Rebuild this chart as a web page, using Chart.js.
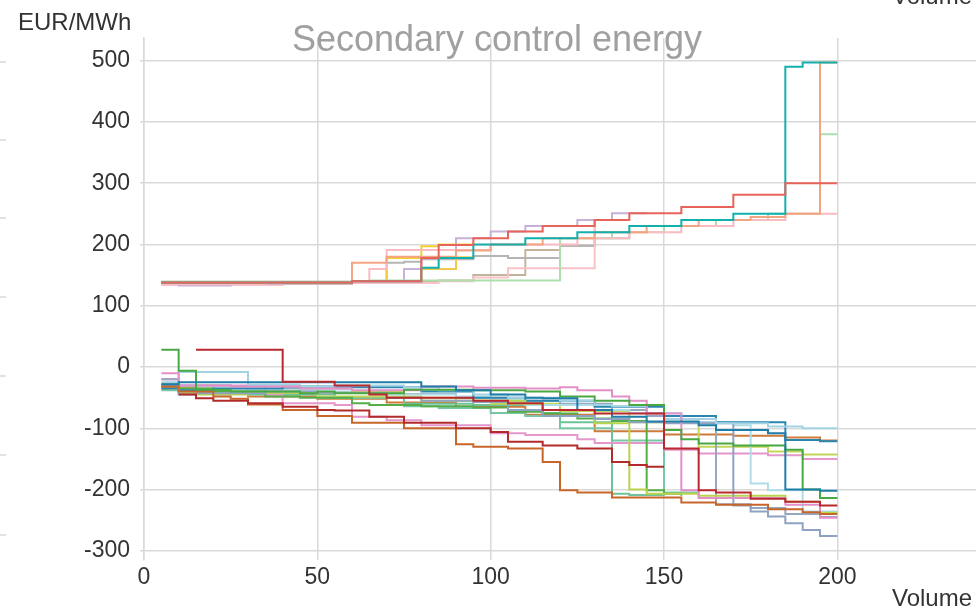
<!DOCTYPE html>
<html>
<head>
<meta charset="utf-8">
<title>Secondary control energy</title>
<script src="https://cdn.jsdelivr.net/npm/chart.js@4.4.1/dist/chart.umd.min.js"></script>
<style>
    html, body { margin: 0; padding: 0; background: #fff; }
    #wrap { width: 976px; height: 614px; }
</style>
</head>
<body>
<div id="wrap"><canvas id="merit-chart" width="976" height="614"></canvas></div>
<script>
// Merit order steps: [volume, price] - price holds until the next volume
const volumeTicks = [0, 50, 100, 150, 200];
const priceTicks = [-300, -200, -100, 0, 100, 200, 300, 400, 500];

// positive (upward) bids
const upRed      = [[5,138],[60,140],[80,178],[85,199],[95,210],[105,221],[115,230],[130,240],[140,251],[155,261],[170,281],[185,300],[200,300]];
const upLavender = [[5,137],[10,133],[25,136],[60,140],[75,160],[80,178],[90,210],[100,221],[110,230],[125,240],[135,251],[145,251]];
const upTeal     = [[5,138],[60,140],[80,162],[85,178],[95,200],[110,210],[125,220],[140,230],[155,240],[170,250],[185,490],[190,497],[200,497]];
const upGreen    = [[5,139],[65,141],[120,210],[135,220],[150,230],[165,240],[180,250],[195,380],[200,380]];
const upPink     = [[5,135],[35,138],[65,160],[70,191],[100,200],[125,210],[140,220],[155,230],[170,240],[185,250],[200,250]];
const upPink2    = [[5,134],[40,137],[85,140],[95,146],[105,161],[130,240],[140,240]];
const upSalmon   = [[5,137],[60,170],[70,180],[90,190],[100,200],[115,210],[130,220],[145,230],[160,240],[175,245],[185,250],[195,497],[200,497]];
const upYellow   = [[5,134],[10,137],[60,140],[70,178],[80,197],[85,200],[95,200]];
const upYellow2  = [[5,136],[60,138],[80,160],[90,179],[95,179]];
const upGray     = [[5,137],[60,139],[70,170],[75,172],[80,176],[95,181],[105,178],[120,198],[130,240],[140,240]];
const upTan      = [[5,139],[60,140],[85,141],[95,150],[110,191],[120,198],[130,210],[140,220]];

// negative (downward) bids
const loRedA     = [[15,28],[40,-24],[55,-30],[65,-45],[70,-50],[95,-55],[105,-59],[115,-70],[130,-76],[150,-133],[160,-201],[165,-205],[175,-215],[185,-220],[195,-226],[200,-226]];
const loRedB     = [[10,-45],[15,-51],[20,-55],[30,-59],[40,-65],[50,-70],[55,-71],[65,-81],[75,-91],[90,-100],[100,-106],[105,-122],[115,-128],[125,-133],[135,-155],[140,-160],[145,-163],[150,-163]];
const loOrange   = [[5,-32],[10,-40],[20,-48],[25,-52],[30,-61],[40,-70],[50,-80],[60,-91],[75,-100],[90,-126],[95,-130],[105,-133],[115,-155],[120,-201],[125,-205],[135,-213],[155,-221],[165,-225],[180,-232],[190,-237],[195,-240],[200,-240]];
const loOrange2  = [[5,-33],[15,-42],[30,-48],[50,-52],[70,-58],[90,-65],[110,-78],[130,-105],[150,-110],[170,-112],[185,-115],[195,-120],[200,-120]];
const loGreen    = [[5,28],[10,-6],[15,-37],[25,-40],[45,-43],[50,-40],[55,-43],[75,-37],[95,-38],[110,-40],[120,-48],[130,-55],[140,-62],[150,-103],[155,-118],[160,-125],[170,-128],[185,-135],[190,-200],[195,-214],[200,-214]];
const loGreen2   = [[5,-28],[10,-35],[20,-40],[35,-48],[45,-50],[60,-59],[65,-62],[80,-64],[95,-66],[105,-73],[115,-76],[125,-84],[135,-88],[145,-201],[150,-207],[155,-210]];
const loBlue     = [[5,-25],[10,-8],[30,-29],[45,-32],[55,-30],[75,-33],[85,-38],[95,-45],[105,-50],[120,-55],[130,-62],[135,-64],[145,-75],[150,-85],[165,-92],[180,-97],[190,-100],[200,-100]];
const loBlue2    = [[5,-30],[15,-35],[30,-38],[50,-40],[70,-45],[90,-48],[100,-52],[110,-62],[130,-70],[140,-75],[155,-90],[170,-95],[175,-190],[180,-201],[190,-236],[200,-236]];
const loSteel    = [[5,-28],[10,-25],[75,-25],[80,-32],[90,-38],[100,-45],[110,-50],[115,-51],[125,-70],[135,-81],[145,-89],[160,-95],[165,-103],[180,-108],[185,-200],[195,-202],[200,-202]];
const loSteel2   = [[5,-35],[10,-38],[20,-35],[40,-32],[60,-33],[80,-40],[95,-50],[110,-55],[130,-65],[150,-80],[165,-90],[185,-119],[195,-121],[200,-121]];
const loSlate    = [[5,-30],[10,-45],[15,-43],[35,-40],[50,-42],[70,-50],[80,-55],[95,-57],[105,-70],[115,-80],[130,-85],[140,-90],[150,-92],[170,-226],[175,-236],[180,-244],[185,-255],[190,-266],[195,-276],[200,-276]];
const loSlate2   = [[5,-20],[10,-30],[25,-32],[40,-35],[60,-40],[75,-44],[90,-50],[105,-55],[120,-60],[135,-70],[145,-80],[155,-90],[165,-224],[175,-230],[185,-240],[195,-245],[200,-245]];
const loPink     = [[5,-10],[10,-30],[25,-32],[45,-35],[60,-38],[80,-32],[95,-34],[110,-35],[120,-33],[125,-38],[135,-48],[140,-55],[145,-76],[155,-201],[160,-214],[185,-225],[195,-246],[200,-246]];
const loPink2    = [[5,-20],[10,-30],[35,-45],[40,-59],[55,-62],[60,-81],[70,-87],[80,-95],[100,-108],[110,-111],[125,-118],[130,-124],[150,-135],[160,-141],[180,-144],[190,-150],[200,-150]];
const loLime     = [[5,-30],[10,-43],[15,-45],[30,-42],[60,-40],[75,-50],[90,-55],[110,-60],[115,-70],[130,-92],[140,-200],[145,-207],[160,-210],[185,-220],[195,-238],[200,-238]];
const loLime2    = [[5,-35],[20,-42],[50,-48],[80,-55],[100,-60],[120,-72],[140,-90],[160,-130],[180,-138],[190,-143],[200,-143]];
const loSea      = [[5,-30],[10,-40],[30,-45],[55,-50],[75,-60],[95,-62],[115,-75],[120,-90],[135,-207],[140,-209],[150,-210]];
const loSea2     = [[5,-38],[25,-42],[50,-50],[75,-64],[85,-67],[100,-75],[110,-80],[120,-100],[135,-120],[150,-205],[160,-210]];

// series drawn first in this list end up on top
const seriesList = [
    upRed, upTeal, upSalmon, upPink, upGreen, upLavender, upPink2, upYellow, upYellow2, upGray, upTan,
    loRedA, loRedB, loSteel, loGreen, loOrange, loPink, loBlue, loSlate, loLime,
    loSteel2, loGreen2, loBlue2, loSlate2, loPink2, loLime2, loSea, loSea2, loOrange2
];
const seriesColors = [
    '#e8635a', '#12b0ad', '#f3a582', '#f9bcc3', '#acdfac', '#c8b1d6', '#f9c2c6', '#f5cf30', '#f2c94c', '#b5b5b5', '#c4b39c',
    '#b8282e', '#b32a2a', '#1f7ea8', '#4aa843', '#c8662a', '#e38fc8', '#a3d3e3', '#8ea3c2', '#bad34e',
    '#2a86b0', '#55ad4a', '#aedde9', '#96a7c0', '#e497cc', '#c3d65a', '#6cc39a', '#78c7a4', '#cd7a3a'
];

const fontFamily = "'Liberation Sans', Arial, sans-serif";
const gridColor = '#d9d9d9';

/**
 * Turn one list of steps into chart.js points
 */
function toPoints(steps) {
    return steps.map(s => ({ x: s[0], y: s[1] }));
}

/**
 * Titles and the stray marks of the neighbouring chart
 */
const decorPlugin = {
    id: 'decor',
    afterDraw(chart) {
        const ctx = chart.ctx;
        ctx.save();
        // leftovers of the chart on the left
        ctx.strokeStyle = gridColor;
        ctx.lineWidth = 1.5;
        [62, 140, 218, 297, 376, 455, 535].forEach(y => {
            ctx.beginPath();
            ctx.moveTo(0, y);
            ctx.lineTo(6, y);
            ctx.stroke();
        });

        ctx.fillStyle = '#a0a0a0';
        ctx.font = '36px ' + fontFamily;
        ctx.textAlign = 'center';
        ctx.textBaseline = 'alphabetic';
        ctx.fillText('Secondary control energy', 497, 51);

        ctx.fillStyle = '#333';
        ctx.font = '24px ' + fontFamily;
        ctx.textAlign = 'left';
        ctx.fillText('EUR/MWh', 18, 30);

        ctx.textAlign = 'right';
        ctx.fillText('Volume', 972, 606);
        ctx.fillText('Volume', 972, 4);
        ctx.restore();
    }
};

/**
 * Build the chart
 */
function initMeritChart() {
    const ctx = document.getElementById('merit-chart').getContext('2d');

    const datasets = seriesList.map((steps, i) => ({
        data: toPoints(steps),
        borderColor: seriesColors[i],
        borderWidth: 2,
        pointRadius: 0,
        stepped: true,
        fill: false
    }));

    return new Chart(ctx, {
        type: 'line',
        data: { datasets: datasets },
        options: {
            responsive: false,
            animation: false,
            devicePixelRatio: 1,
            layout: { padding: { top: 38, left: 0, right: 0, bottom: 0 } },
            plugins: {
                legend: { display: false },
                tooltip: { enabled: false },
                title: { display: false }
            },
            scales: {
                x: {
                    type: 'linear',
                    min: 0,
                    max: 240,
                    afterBuildTicks: scale => {
                        scale.ticks = volumeTicks.map(v => ({ value: v }));
                    },
                    afterFit: scale => { scale.height = 54; },
                    ticks: { color: '#333', font: { size: 23, family: fontFamily }, padding: 4, maxRotation: 0 },
                    grid: { color: gridColor, lineWidth: 1.5, drawTicks: false },
                    border: { display: false }
                },
                y: {
                    type: 'linear',
                    min: -315,
                    max: 537,
                    afterBuildTicks: scale => {
                        scale.ticks = priceTicks.map(v => ({ value: v }));
                    },
                    afterFit: scale => { scale.width = 144; },
                    ticks: { color: '#333', font: { size: 23, family: fontFamily }, padding: 10 },
                    grid: { color: gridColor, lineWidth: 1.5, tickLength: 4 },
                    border: { display: true, color: gridColor, width: 1.5 }
                }
            }
        },
        plugins: [decorPlugin]
    });
}

initMeritChart();
</script>
</body>
</html>
